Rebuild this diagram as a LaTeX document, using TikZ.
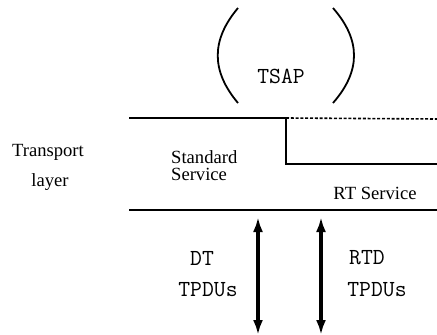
\documentclass[tikz,border=0pt]{standalone}
\usepackage{fontspec}
\setmainfont{Liberation Serif}
\usetikzlibrary{arrows.meta}
\begin{document}
\begin{tikzpicture}[x=1pt,y=-1pt,
  rm/.style={font=\fontsize{18.6}{20}\selectfont, inner sep=0pt},
  tt/.style={font=\ttfamily\fontsize{23}{24}\selectfont, inner sep=0pt},
  rule/.style={line width=2.2pt},
  paren/.style={line width=1.8pt},
  tpdu/.style={line width=3.4pt, {Latex[length=15pt,width=10pt]}-{Latex[length=15pt,width=10pt]}}]
\useasboundingbox (0,0) rectangle (437,335);
% TSAP brackets
\coordinate (lt) at (238,8);
\coordinate (lb) at (238,103);
\coordinate (rt) at (333,8);
\coordinate (rb) at (333,103);
\draw[paren] (lt) .. controls (211,40) and (211,71) .. (lb);
\draw[paren] (rt) .. controls (361,40) and (361,71) .. (rb);
\node[tt] (tsap) at (281,76) {TSAP};
% service boundaries
\coordinate (tl) at (129,118);
\coordinate (tm) at (286,118);
\coordinate (tr) at (437,119);
\coordinate (mm) at (286,164);
\coordinate (mr) at (437,164);
\coordinate (bl) at (129,210);
\coordinate (br) at (437,210);
\draw[rule] (tl) -- (tm) -- (mm) -- (mr);
\draw[line width=1.6pt, dash pattern=on 3pt off 1.8pt] (tm) -- (tr);
\draw[rule] (bl) -- (br);
% labels
\node[rm] (tl1) at (48,152) {Transport};
\node[rm] (tl2) at (50,182) {layer};
\node[rm, align=left, anchor=west] (std) at (171,166) {Standard\\[-3pt]Service};
\node[rm] (rts) at (375,193) {RT Service};
% TPDU arrows
\coordinate (a1t) at (258,217);
\coordinate (a1b) at (258,335);
\coordinate (a2t) at (321,217);
\coordinate (a2b) at (321,335);
\draw[tpdu] (a1t) -- (a1b);
\draw[tpdu] (a2t) -- (a2b);
\node[tt] (dt) at (202,258) {DT};
\node[tt] (dt2) at (208,290) {TPDUs};
\node[tt] (rtd) at (367,258) {RTD};
\node[tt] (rtd2) at (377,290) {TPDUs};
\end{tikzpicture}
\end{document}
